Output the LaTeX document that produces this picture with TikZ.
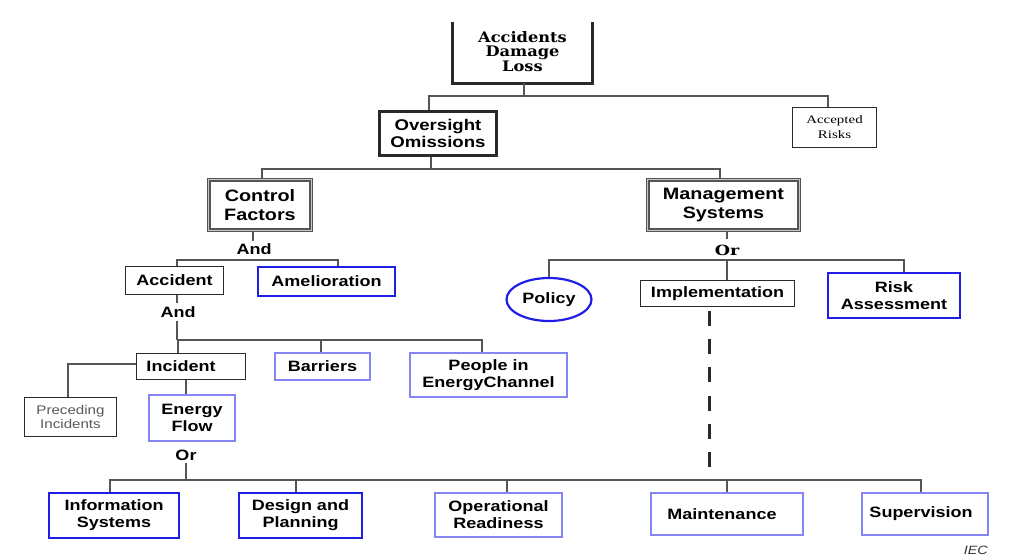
\documentclass[tikz,border=0pt]{standalone}
\usepackage{fontspec}
\usetikzlibrary{shapes.geometric}
\newfontfamily\arialx[FakeStretch=1.2]{Liberation Sans}
\newfontfamily\serifx[FakeStretch=1.12]{DejaVu Serif}
\newfontfamily\serifxx[FakeStretch=1.25]{DejaVu Serif}
\newfontfamily\timesx[FakeStretch=1.3]{Liberation Serif}
\definecolor{sblue}{HTML}{1E1EE6}
\definecolor{lblue}{HTML}{8585F5}
\definecolor{cline}{HTML}{555555}
\definecolor{cbox}{HTML}{2A2A2A}
\begin{document}
\begin{tikzpicture}[x=1bp,y=-1bp,
  bx/.style={inner sep=0pt, align=center},
  fLone/.style={font=\arialx\bfseries\fontsize{16.5bp}{19.5bp}\selectfont},
  fLthree/.style={font=\arialx\bfseries\fontsize{15bp}{17bp}\selectfont},
  plainbox/.style={bx, fLthree, draw=cbox, line width=1.3bp},
  sbox/.style={bx, fLthree, draw=sblue, line width=2.2bp},
  lbox/.style={bx, fLthree, draw=lblue, line width=2bp},
  dbox/.style={bx, fLone, draw=cline, line width=1.2bp, double=black!22, double distance=1.2bp},
  heavybox/.style={bx, draw=cbox, line width=2.8bp},
  conn/.style={draw=cline, line width=1.3bp},
  dashconn/.style={draw=cbox, line width=3bp, dash pattern=on 15bp off 13.3bp},
  lab/.style={inner sep=0pt, fLthree}
]
\fill[white] (0,0) rectangle (1024,559);
\useasboundingbox (0,0) rectangle (1024,559);

% nodes
\node[bx, minimum width=139bp, minimum height=61bp,
  font=\serifx\bfseries\fontsize{14.5bp}{14.5bp}\selectfont] (top) at (522.5,52.5) {Accidents\\Damage\\Loss\rule[-3bp]{0pt}{0pt}};
\draw[draw=cbox, line width=2.8bp] (top.north west) -- (top.south west) -- (top.south east) -- (top.north east);

\node[heavybox, minimum width=117bp, minimum height=44bp,
  font=\arialx\bfseries\fontsize{15.5bp}{17bp}\selectfont] (ovs) at (438,133.5) {Oversight\\Omissions};
\node[bx, draw=cbox, line width=1.2bp, minimum width=84bp, minimum height=40bp,
  font=\timesx\fontsize{11.5bp}{15bp}\selectfont] (acc) at (834.5,127.5) {Accepted\\Risks};

\node[dbox, minimum width=102.4bp, minimum height=50.4bp] (ctrl) at (260,205) {Control\\Factors};
\node[dbox, minimum width=151.4bp, minimum height=50.4bp] (mgmt) at (723.5,205) {Management\\Systems};

\node[plainbox, minimum width=98bp, minimum height=28bp] (accid) at (174.5,280.5) {Accident};
\node[sbox, minimum width=137bp, minimum height=29bp] (amel) at (326.5,281.5) {Amelioration};
\node[sbox, ellipse, minimum width=85bp, minimum height=43bp] (policy) at (549,299.5) {Policy};
\node[plainbox, minimum width=154bp, minimum height=26bp] (impl) at (717.5,293.5) {Implementation};
\node[sbox, minimum width=132bp, minimum height=45bp] (risk) at (894,295.5) {Risk\\Assessment};

\node[plainbox, minimum width=109bp, minimum height=26bp] (incid) at (191,366.5) {Incident\rule{20bp}{0pt}};
\node[lbox, minimum width=95bp, minimum height=27bp] (barr) at (322.5,366.5) {Barriers};
\node[lbox, minimum width=157bp, minimum height=44bp] (people) at (488.5,375) {People in\\EnergyChannel};
\node[bx, draw=cbox, line width=1.2bp, minimum width=92bp, minimum height=39bp, text=black!65,
  font=\arialx\fontsize{12.6bp}{14bp}\selectfont] (prec) at (70.5,417) {Preceding\\Incidents};
\node[lbox, minimum width=86bp, minimum height=46bp] (energy) at (192,418) {Energy\\Flow};

\node[sbox, minimum width=130bp, minimum height=45bp] (info) at (114,515.5) {Information\\Systems};
\node[sbox, minimum width=123bp, minimum height=45bp] (design) at (300.5,515.5) {Design and\\Planning};
\node[lbox, minimum width=127bp, minimum height=44bp] (oper) at (498.5,515) {Operational\\Readiness};
\node[lbox, minimum width=152bp, minimum height=42bp] (maint) at (727,514) {Maintenance\rule{10bp}{0pt}};
\node[lbox, minimum width=126bp, minimum height=42bp] (superv) at (925,514) {Supervision\rule{8bp}{0pt}};

% labels
\node[lab, minimum height=17bp] (and1) at (254,249.5) {And};
\node[lab, minimum height=22bp, font=\serifxx\bfseries\fontsize{14bp}{16bp}\selectfont] (or1) at (727,250.5) {Or};
\node[lab, minimum height=18bp] (and2) at (178,312) {And};
\node[lab, minimum height=16bp] (or2) at (186,455) {Or};
\node[inner sep=0pt, anchor=east, font=\arialx\itshape\fontsize{12bp}{14bp}\selectfont, text=black!80] (iec) at (988,550) {IEC};

% connectors
\draw[conn] (top.south -| 524,0) -- (524,96);
\draw[conn] (ovs.north -| 429,0) |- (828,96) -- (acc.north -| 828,0);
\draw[conn] (ovs.south -| 431,0) -- (431,169);
\draw[conn] (ctrl.north -| 262,0) |- (720,169) -- (mgmt.north -| 720,0);

\draw[conn] (ctrl.south -| 253,0) -- (and1.north -| 253,0);
\draw[conn] (accid.north -| 177,0) |- (338,260) -- (amel.north -| 338,0);

\draw[conn] (mgmt.south -| 727,0) -- (or1.north -| 727,0);
\draw[conn] (policy.north -| 549,0) |- (904,260) -- (risk.north -| 904,0);
\draw[conn] (727,260) -- (impl.north -| 727,0);

\draw[conn] (accid.south -| 177,0) -- (and2.north -| 177,0);
\draw[conn] (and2.south -| 177,0) -- (177,340);
\draw[conn] (incid.north -| 178,0) |- (482,340) -- (people.north -| 482,0);
\draw[conn] (321,340) -- (barr.north -| 321,0);
\draw[conn] (incid.west |- 0,364) -| (prec.north -| 68,0);
\draw[conn] (incid.south -| 186,0) -- (energy.north -| 186,0);

\draw[conn] (or2.south -| 186,0) -- (186,480);
\draw[conn] (info.north -| 110,0) |- (921,480) -- (superv.north -| 921,0);
\draw[conn] (296,480) -- (design.north -| 296,0);
\draw[conn] (507,480) -- (oper.north -| 507,0);
\draw[conn] (727,480) -- (maint.north -| 727,0);

\draw[dashconn, shorten <=3.5bp, shorten >=13bp] (impl.south -| 709,0) -- (709,480);
\end{tikzpicture}
\end{document}
